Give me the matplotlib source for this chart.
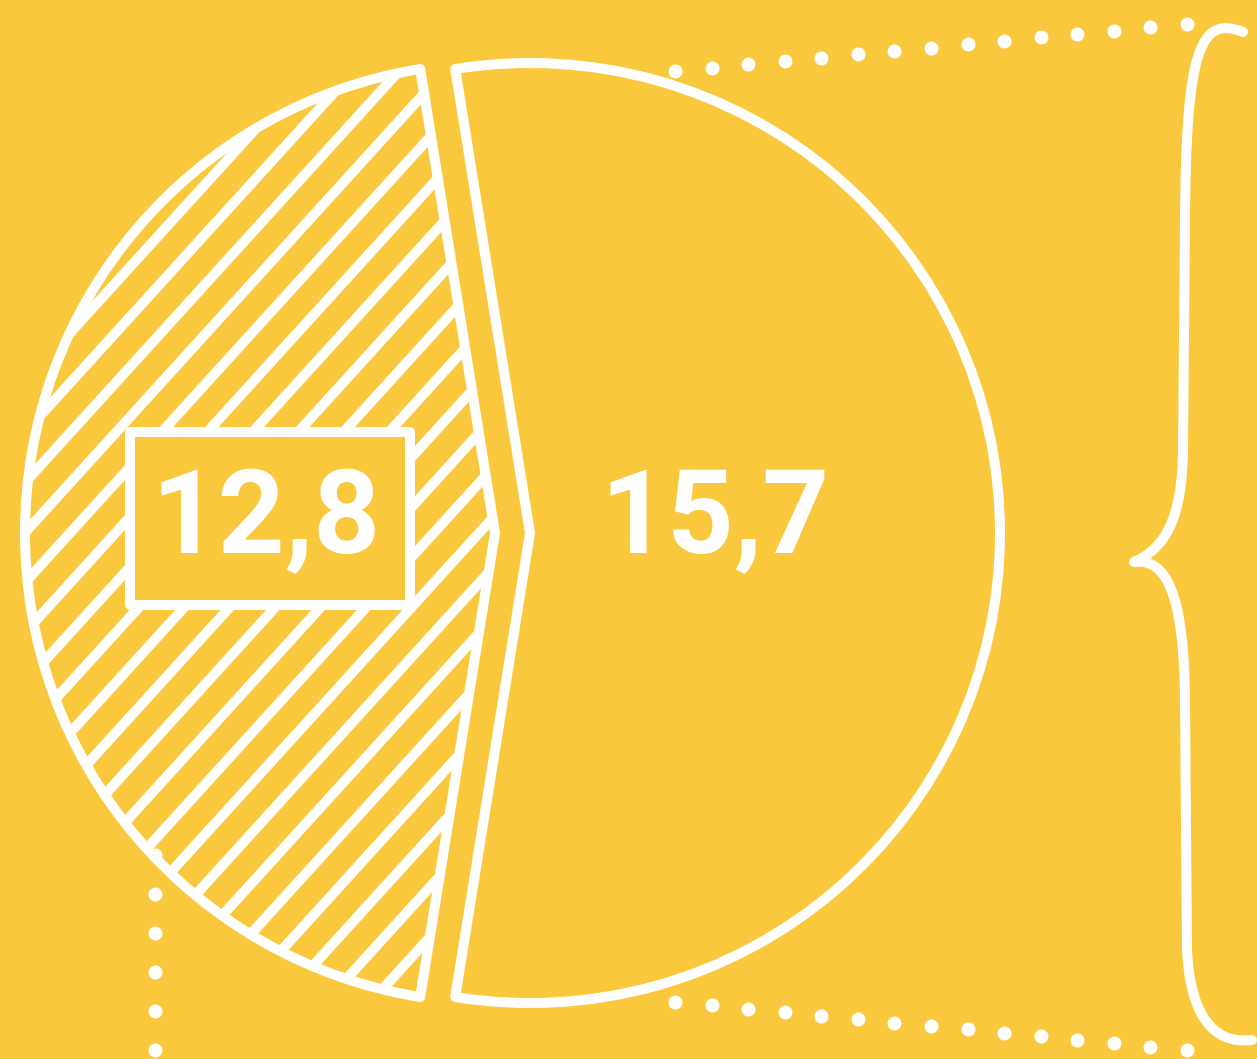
import numpy as np
import matplotlib
matplotlib.use("Agg")
import matplotlib.pyplot as plt
from matplotlib.patches import Wedge, Rectangle, PathPatch
from matplotlib.path import Path

# ------------------------------
# Data
# ------------------------------
values = [12.8, 15.7]
value_labels = ["12,8", "15,7"]

BG = "#F9C83C"
WHITE = "#FFFFFF"

W, H = 1257, 1059
fig = plt.figure(figsize=(W / 100, H / 100), dpi=100, facecolor=BG)
ax = fig.add_axes([0, 0, 1, 1])
ax.set_xlim(0, W)
ax.set_ylim(H, 0)   # pixel-like coords, y down
ax.set_axis_off()
ax.set_facecolor(BG)

px = 0.72  # 1 px in points at dpi 100
LW = 10 * px

# pie geometry: right slice = values[1], left slice = values[0] (exploded left)
total = sum(values)
span_right = 360.0 * values[1] / total
span_left = 360.0 * values[0] / total
radius = 470
center_right = (530, 533)
center_left = (495, 533)

right = Wedge(center_right, radius, -span_right / 2, span_right / 2,
              facecolor="none", edgecolor=WHITE, lw=LW, joinstyle="round", zorder=3)
left = Wedge(center_left, radius, 180 - span_left / 2, 180 + span_left / 2,
             facecolor="none", edgecolor=WHITE, lw=LW, joinstyle="round", zorder=3)
ax.add_patch(right)
ax.add_patch(left)

# hatching of the left slice (parallel "/" lines clipped to the slice)
slope = 1.1
xs = np.array([-50.0, 700.0])
for c in np.arange(110, 1700, 50):
    ln, = ax.plot(xs, c - slope * xs, color=WHITE, lw=LW,
                  solid_capstyle="round", zorder=2)
    ln.set_clip_path(left)

# label box over the hatching
box = Rectangle((130, 432), 280, 173, facecolor=BG, edgecolor=WHITE,
                lw=LW, joinstyle="round", zorder=4)
ax.add_patch(box)

txt_kw = dict(color=WHITE, fontsize=84, fontweight="bold", family=["Roboto", "DejaVu Sans"],
              ha="center", va="center", zorder=5)
ax.text(266, 521, value_labels[0], **txt_kw)
ax.text(715, 521, value_labels[1], **txt_kw)

# dotted decorations
dot_kw = dict(s=(14 * px) ** 2, color=WHITE, linewidths=0, zorder=3)
ax.scatter(np.linspace(675, 1187, 15), np.linspace(71, 24, 15), **dot_kw)
ax.scatter(np.linspace(675, 1187, 15), np.linspace(1002, 1050, 15), **dot_kw)
ax.scatter(np.full(6, 155), np.linspace(855, 1050, 6), **dot_kw)

# curly brace on the right
verts = [
    (1243, 32),
    (1200, 15), (1186, 50), (1185, 220),
    (1183, 450),
    (1182, 520), (1165, 548), (1134, 562),
    (1165, 558), (1184, 590), (1185, 700),
    (1187, 950),
    (1190, 1010), (1210, 1045), (1252, 1040),
]
codes = [Path.MOVETO,
         Path.CURVE4, Path.CURVE4, Path.CURVE4,
         Path.LINETO,
         Path.CURVE4, Path.CURVE4, Path.CURVE4,
         Path.CURVE4, Path.CURVE4, Path.CURVE4,
         Path.LINETO,
         Path.CURVE4, Path.CURVE4, Path.CURVE4]
brace = PathPatch(Path(verts, codes), facecolor="none", edgecolor=WHITE,
                  lw=LW, capstyle="round", joinstyle="round", zorder=3)
ax.add_patch(brace)

fig.savefig("out.png", dpi=100, facecolor=BG)
